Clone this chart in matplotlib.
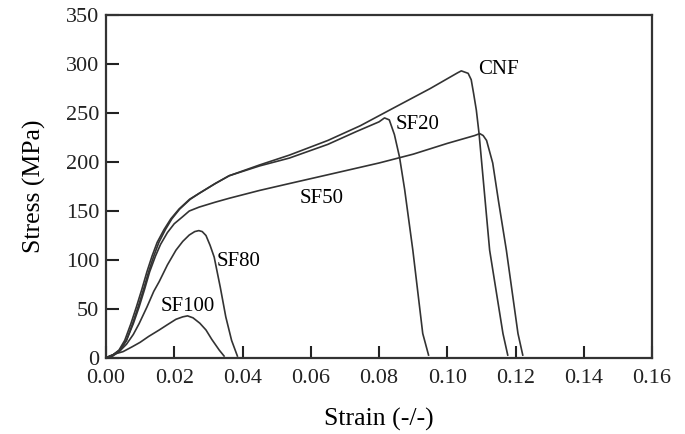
import matplotlib.pyplot as plt

plt.rcParams['font.family'] = ['Liberation Serif', 'DejaVu Serif']

# Values (strain, stress in MPa)
cnf_strain = [0, 0.002, 0.0038, 0.0055, 0.0073, 0.0089, 0.0105, 0.0120, 0.0135, 0.0150,
              0.0170, 0.0190, 0.0214, 0.0245, 0.0273, 0.0320, 0.0361, 0.0450, 0.0537,
              0.0650, 0.0745, 0.0831, 0.0950, 0.1030, 0.1041, 0.1061, 0.1070, 0.1077,
              0.1085, 0.1093, 0.1124, 0.1163, 0.1177]
cnf_stress = [0, 3, 8, 18, 35, 52, 70, 88, 104, 118,
              131, 142, 152, 162, 168, 178, 186, 197, 207,
              222, 237, 253, 275, 291, 293, 290.5, 284, 270,
              253, 229, 110, 25, 3]

sf20_strain = [0, 0.002, 0.004, 0.006, 0.0078, 0.0094, 0.0110, 0.0125, 0.0140, 0.0155,
               0.0174, 0.0193, 0.0216, 0.0247, 0.0273, 0.0320, 0.0361, 0.0450, 0.0537,
               0.0650, 0.0733, 0.0800, 0.0816, 0.0830, 0.0845, 0.0860, 0.0875, 0.0899,
               0.0928, 0.0945]
sf20_stress = [0, 3, 8, 18, 35, 52, 70, 88, 104, 118,
               131, 142, 152, 162, 168, 178, 186, 196, 204,
               218, 231, 241, 245, 243, 228, 205, 172, 110,
               25, 3]

sf50_strain = [0, 0.002, 0.0042, 0.006, 0.0080, 0.0097, 0.0113, 0.0128, 0.0145, 0.0160,
               0.0180, 0.0200, 0.0224, 0.0244, 0.0273, 0.0320, 0.0361, 0.0450, 0.0537,
               0.0650, 0.0800, 0.0900, 0.1000, 0.1080, 0.1095, 0.1105, 0.1115, 0.1133,
               0.1150, 0.1173, 0.1207, 0.1221]
sf50_stress = [0, 3, 8, 18, 35, 52, 70, 88, 104, 116,
               128, 137, 144, 150, 154, 159, 163, 171, 178,
               187, 199, 208, 219, 227, 229, 227, 222, 199,
               160, 110, 25, 3]

sf80_strain = [0, 0.002, 0.004, 0.006, 0.008, 0.0097, 0.0120, 0.0140, 0.0156, 0.0180,
               0.0205, 0.0225, 0.0244, 0.0260, 0.0272, 0.0282, 0.0293, 0.0305, 0.0317,
               0.0335, 0.0351, 0.0368, 0.0385]
sf80_stress = [0, 2, 7, 14, 24, 35, 52, 68, 78, 95,
               110, 119, 125.5, 129, 130, 129, 125, 115, 103,
               72, 42, 18, 2]

sf100_strain = [0, 0.001, 0.003, 0.005, 0.0077, 0.0100, 0.0125, 0.0156, 0.0180, 0.0205,
                0.0225, 0.0239, 0.0255, 0.0275, 0.0293, 0.0310, 0.0332, 0.0346]
sf100_stress = [0, 2, 4.5, 6.5, 11.5, 16, 22, 28.6, 34, 39.5,
                42, 43, 41, 35.5, 28.6, 19, 8, 2]

fig = plt.figure(figsize=(6.85, 4.34), dpi=100)
ax = fig.add_axes([0.1547, 0.1751, 0.7973, 0.7903])

line_color = '#333333'
for xs, ys in [(cnf_strain, cnf_stress), (sf20_strain, sf20_stress),
               (sf50_strain, sf50_stress), (sf80_strain, sf80_stress),
               (sf100_strain, sf100_stress)]:
    ax.plot(xs, ys, color=line_color, linewidth=1.2)

# curve labels
ax.text(0.1151, 294, 'CNF', fontsize=15, ha='center', va='center')
ax.text(0.0913, 238, 'SF20', fontsize=15, ha='center', va='center')
ax.text(0.0633, 163, 'SF50', fontsize=15, ha='center', va='center')
ax.text(0.0389, 98, 'SF80', fontsize=15, ha='center', va='center')
ax.text(0.0239, 53, 'SF100', fontsize=15, ha='center', va='center')

ax.set_xlim(0, 0.16)
ax.set_ylim(0, 350)
ax.set_xticks([0.00, 0.02, 0.04, 0.06, 0.08, 0.10, 0.12, 0.14, 0.16])
ax.set_yticks([0, 50, 100, 150, 200, 250, 300, 350])
ax.xaxis.set_major_formatter(plt.FormatStrFormatter('%.2f'))

ax.tick_params(direction='in', length=9, width=1.5, labelsize=16,
               colors='#222222')
ax.tick_params(axis='x', pad=8)
ax.tick_params(axis='y', pad=5)
for sp in ax.spines.values():
    sp.set_linewidth(1.6)
    sp.set_color('#333333')

ax.set_xlabel('Strain (-/-)', fontsize=18.5, labelpad=14)
ax.set_ylabel('Stress (MPa)', fontsize=18.5, labelpad=14)

fig.savefig('out.png', dpi=100)
